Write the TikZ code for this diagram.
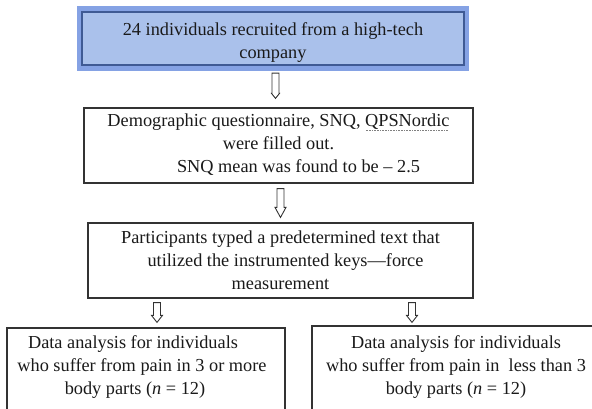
\documentclass[tikz,border=0pt]{standalone}
\usepackage{fontspec}
\setmainfont{Liberation Serif}
\usetikzlibrary{calc}
\definecolor{lightblue}{HTML}{AAC1EB}
\definecolor{midblue}{HTML}{85A2E4}
\definecolor{darkblue}{HTML}{3F5A94}
\definecolor{boxline}{HTML}{333333}
\definecolor{txt}{HTML}{1A1A1A}
\newcommand\mysquig[1]{\setbox0\hbox{#1}\rlap{\color{gray}\raisebox{-3.5pt}{\leaders\hbox to 1.6pt{\hss\rule{0.8pt}{0.8pt}\hss}\hskip\wd0}}#1}
\tikzset{
  box/.style={draw=boxline, line width=1.2pt, fill=white, inner sep=0pt},
  txtnode/.style={align=center, text=txt, font=\fontsize{18.3}{23}\selectfont, inner sep=0pt},
  harrow/.style n args={3}{draw=boxline, line width=0.9pt, fill=white, to path={
    let \p1=(\tikztostart), \p2=(\tikztotarget) in
    (\x1-#1,\y1) -- (\x1-#1,\y2+#3) -- (\x1-#2,\y2+#3) -- (\x1,\y2)
    -- (\x1+#2,\y2+#3) -- (\x1+#1,\y2+#3) -- (\x1+#1,\y1) -- cycle}}
}
\begin{document}
\begin{tikzpicture}[x=1pt,y=1pt]
\useasboundingbox (0,0) rectangle (592,409);
\clip (0,0) rectangle (592,409);
\fill[white] (0,0) rectangle (592,409);
% top box
\node[fill=midblue, minimum width=392pt, minimum height=65pt, inner sep=0pt] (b1o) at (273,370.5) {};
\node[draw=darkblue, line width=1.8pt, fill=lightblue, minimum width=382pt, minimum height=53pt, inner sep=0pt] (b1) at (273,370.5) {};
\node[txtnode] (t1) at (273,366) {24 individuals recruited from a high-tech\\company};
% box 2
\node[box, minimum width=389pt, minimum height=75pt] (b2) at (278.5,263.5) {};
\node[txtnode] (t2) at (278.5,264) {Demographic questionnaire, SNQ, \mysquig{QPSNordic}\\were filled out.\hspace*{28pt}\\\hspace*{40pt}SNQ mean was found to be -- 2.5};
% box 3
\node[box, minimum width=385pt, minimum height=75pt] (b3) at (280.5,148.5) {};
\node[txtnode] (t3) at (280.5,149) {Participants typed a predetermined text that\\\hspace*{10pt}utilized the instrumented keys—force\\measurement};
% box 4
\node[box, minimum width=278pt, minimum height=130pt] (b4) at (146,16) {};
\node[txtnode] (t4) at (142,42) {Data analysis for individuals\hspace*{18pt}\\who suffer from pain in 3 or more\\body parts (\textit{n} = 12)\hspace*{14pt}};
% box 5
\node[box, minimum width=300pt, minimum height=130pt] (b5) at (462,18) {};
\node[txtnode] (t5) at (456,42) {Data analysis for individuals\\who suffer from pain in\ \ less than 3\\body parts (\textit{n} = 12)};
% arrows
\coordinate (a1s) at ([xshift=2.5pt,yshift=-2pt]b1o.south);
\coordinate (a1e) at ($(a1s |- b2.north)+(0,9)$);
\draw[harrow={3.5pt}{4pt}{5pt}] (a1s) to (a1e);
\coordinate (a2s) at ([yshift=-5pt]b2.south -| b3.north);
\coordinate (a2e) at ([yshift=5pt]b3.north);
\draw[harrow={3.5pt}{5.5pt}{10pt}] (a2s) to (a2e);
\coordinate (a3s) at ([xshift=-123.5pt,yshift=-4pt]b3.south);
\coordinate (a3e) at ($(a3s |- b4.north)+(0,5)$);
\draw[harrow={3.5pt}{5.5pt}{7pt}] (a3s) to (a3e);
\coordinate (a4s) at ([xshift=131.5pt,yshift=-4pt]b3.south);
\coordinate (a4e) at ($(a4s |- b5.north)+(0,3)$);
\draw[harrow={3.5pt}{5.5pt}{7pt}] (a4s) to (a4e);
\end{tikzpicture}
\end{document}
